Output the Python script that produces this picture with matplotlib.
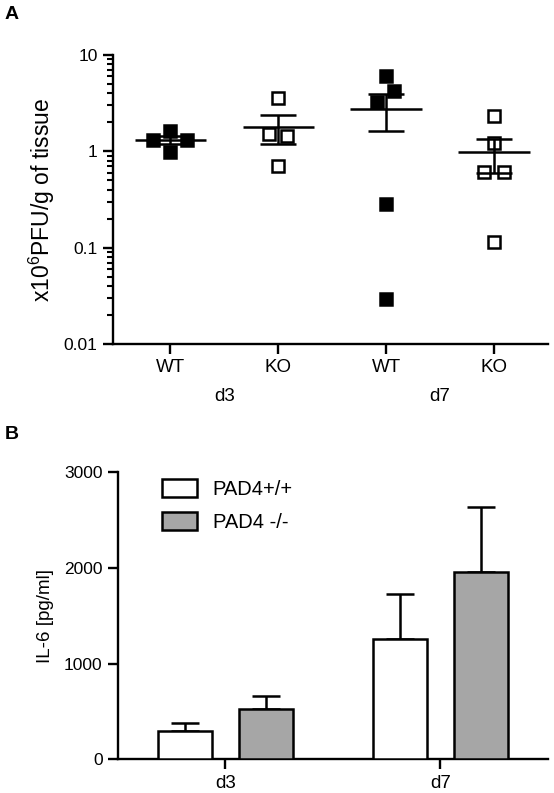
import numpy as np
import matplotlib.pyplot as plt

plt.rcParams['font.family'] = ['Liberation Sans', 'DejaVu Sans']
plt.rcParams['font.size'] = 12.5
plt.rcParams['axes.linewidth'] = 1.7
plt.rcParams['mathtext.fontset'] = 'custom'
plt.rcParams['mathtext.rm'] = 'Liberation Sans'

# Panel A: virus titre (x10^6 PFU/g of tissue)
genotypes = ['WT', 'KO', 'WT', 'KO']
days_a = ['d3', 'd7']
wt_d3 = [1.62, 1.32, 1.30, 0.99]
ko_d3 = [3.54, 1.53, 1.43, 0.71]
wt_d7 = [6.04, 4.24, 3.27, 0.285, 0.029]
ko_d7 = [2.32, 1.23, 0.61, 0.61, 0.115]
# sideways spread of overlapping points
spread = [[0, -0.16, 0.16, 0],
          [0, -0.08, 0.085, 0],
          [0, 0.07, -0.085, 0, 0],
          [0, 0, -0.09, 0.09, 0]]

# Panel B: IL-6 [pg/ml]
days_b = ['d3', 'd7']
il6_wt = [296, 1254]
il6_wt_sem = [80, 471]
il6_ko = [522, 1955]
il6_ko_sem = [140, 679]

fig = plt.figure(figsize=(5.54, 7.93), dpi=100)

# ---- A ----
axA = fig.add_axes([0.204, 0.5662, 0.785, 0.3644])
groups = [wt_d3, ko_d3, wt_d7, ko_d7]
for i, vals in enumerate(groups):
    vals = np.array(vals)
    x = i + np.array(spread[i])
    face = 'black' if i % 2 == 0 else 'white'
    axA.plot(x, vals, 's', ms=8.7, mfc=face, mec='black', mew=1.8,
             zorder=3, clip_on=False)
    m = vals.mean()
    sem = vals.std(ddof=1) / np.sqrt(len(vals))
    axA.hlines(m, i - 0.33, i + 0.33, color='black', lw=1.8, zorder=4)
    axA.errorbar(i, m, yerr=sem, fmt='none', ecolor='black', elinewidth=1.8,
                 capsize=13, capthick=1.8, zorder=4)

axA.set_yscale('log')
axA.set_ylim(0.01, 10)
axA.set_yticks([0.01, 0.1, 1, 10])
axA.set_yticklabels(['0.01', '0.1', '1', '10'])
axA.set_xlim(-0.53, 3.5)
axA.set_xticks(range(4))
axA.set_xticklabels(genotypes, fontsize=13.5)
axA.tick_params(which='major', direction='out', length=7, width=1.7, pad=4)
axA.tick_params(which='minor', direction='out', length=4, width=1.5)
axA.tick_params(axis='x', which='minor', length=0)
for j, d in enumerate(days_a):
    axA.text(2 * j + 0.5, -0.182, d, transform=axA.get_xaxis_transform(),
             ha='center', va='center', fontsize=13.5)
axA.set_ylabel(r'x10$^{\mathregular{6}}$PFU/g of tissue', fontsize=16.5,
               labelpad=5)
for s in ['top', 'right']:
    axA.spines[s].set_visible(False)

# ---- B ----
axB = fig.add_axes([0.213, 0.0425, 0.776, 0.362])
xb = np.arange(len(days_b))
w = 0.25
off = 0.188
axB.bar(xb - off, il6_wt, w, color='white', edgecolor='black', lw=1.8,
        label='PAD4+/+', zorder=3)
axB.bar(xb + off, il6_ko, w, color='#a6a6a6', edgecolor='black', lw=1.8,
        label='PAD4 -/-', zorder=3)
axB.errorbar(xb - off, il6_wt, yerr=[np.zeros(2), il6_wt_sem], fmt='none',
             ecolor='black', elinewidth=1.8, capsize=10, capthick=1.8, zorder=2)
axB.errorbar(xb + off, il6_ko, yerr=[np.zeros(2), il6_ko_sem], fmt='none',
             ecolor='black', elinewidth=1.8, capsize=10, capthick=1.8, zorder=2)
axB.set_ylim(0, 3000)
axB.set_yticks([0, 1000, 2000, 3000])
axB.set_xlim(-0.5, 1.5)
axB.set_xticks(xb)
axB.set_xticklabels(days_b, fontsize=13.5)
axB.tick_params(direction='out', length=7, width=1.7, pad=4)
axB.set_ylabel('IL-6 [pg/ml]', fontsize=13.5, labelpad=7)
for s in ['top', 'right']:
    axB.spines[s].set_visible(False)
axB.legend(loc='upper left', bbox_to_anchor=(0.1016, 0.975), frameon=False,
           borderpad=0, borderaxespad=0, handlelength=1.74, handleheight=1.0,
           handletextpad=0.8, labelspacing=0.65, fontsize=14.5)

fig.text(0.009, 0.982, 'A', fontsize=14, fontweight='bold', va='center')
fig.text(0.009, 0.4515, 'B', fontsize=14, fontweight='bold', va='center')

fig.savefig('out.png', dpi=100)
